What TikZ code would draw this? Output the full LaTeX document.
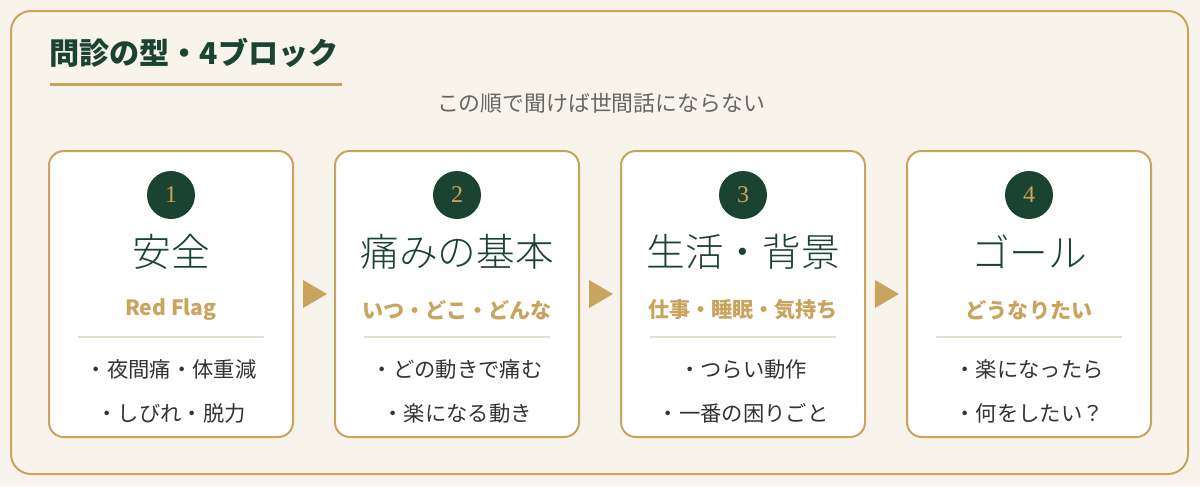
\documentclass[tikz,border=0pt]{standalone}
\usepackage{fontspec}
\usetikzlibrary{calc,positioning}
\setmainfont{Noto Sans CJK JP}
\newfontfamily\jplight{Noto Sans CJK JP Light}
\newfontfamily\numfont{Liberation Serif}
\definecolor{cream}{HTML}{F8F3EB}
\definecolor{gold}{HTML}{C8A45E}
\definecolor{pine}{HTML}{1B4332}
\definecolor{lightsep}{HTML}{E6DED0}
\definecolor{inkgray}{HTML}{333333}
\definecolor{subgray}{HTML}{666666}

\begin{document}
\begin{tikzpicture}[x=0.75pt,y=-0.75pt,
  card/.style={draw=gold,line width=1.5pt,fill=white,rounded corners=11pt,
    minimum width=183pt,minimum height=214.5pt,inner sep=0pt},
  badge/.style={circle,fill=pine,minimum size=36pt,inner sep=0pt,
    text=gold,font=\numfont\fontsize{18}{18}\selectfont},
  headline/.style={text=pine,font=\jplight\fontsize{29}{32}\selectfont,inner sep=0pt},
  tagline/.style={text=gold,font=\bfseries\fontsize{15.8}{18}\selectfont,inner sep=0pt},
  item/.style={text=inkgray,font=\fontsize{16}{18}\selectfont,inner sep=0pt},
  sepline/.style={draw=lightsep,line width=1.1pt},
  playtri/.style={fill=gold}]
 \useasboundingbox[fill=cream] (0,0) rectangle (1200,486);
 \draw[gold,line width=1.5pt,rounded corners=15pt] (11,11) rectangle (1188,474);
 %
 \node[anchor=base west,inner sep=0pt,text=pine,font=\bfseries\fontsize{22.6}{26}\selectfont]
   (title) at (49,64) {問診の型・4ブロック};
 \coordinate (ul1) at (50,84);
 \coordinate (ul2) at (342,84);
 \draw[gold,line width=2.25pt] (ul1) -- (ul2);
 \node[text=subgray,inner sep=0pt,font=\fontsize{16.4}{18}\selectfont]
   (motto) at (601,103) {この順で聞けば世間話にならない};
 %
 \node[card] (card1) at (171,294) {};
 \node[card] (card2) at (457,294) {};
 \node[card] (card3) at (743,294) {};
 \node[card] (card4) at (1029,294) {};
 %
 \node[badge] (num1) at ($(card1.north)+(0,45)$) {1};
 \node[headline] (head1) at ($(card1.north)+(0,102)$) {安全};
 \node[tagline] (tag1) at ($(card1.north)+(0,160)$) {Red Flag};
 \draw[sepline] ($(card1.north)+(-93,187)$) -- ($(card1.north)+(93,187)$);
 \node[item] (itemA1) at ($(card1.north)+(0,219)$) {・夜間痛・体重減};
 \node[item] (itemB1) at ($(card1.north)+(0,263)$) {・しびれ・脱力};
 %
 \node[badge] (num2) at ($(card2.north)+(0,45)$) {2};
 \node[headline] (head2) at ($(card2.north)+(0,102)$) {痛みの基本};
 \node[tagline] (tag2) at ($(card2.north)+(0,160)$) {いつ・どこ・どんな};
 \draw[sepline] ($(card2.north)+(-93,187)$) -- ($(card2.north)+(93,187)$);
 \node[item] (itemA2) at ($(card2.north)+(0,219)$) {・どの動きで痛む};
 \node[item] (itemB2) at ($(card2.north)+(0,263)$) {・楽になる動き};
 %
 \node[badge] (num3) at ($(card3.north)+(0,45)$) {3};
 \node[headline] (head3) at ($(card3.north)+(0,102)$) {生活・背景};
 \node[tagline] (tag3) at ($(card3.north)+(0,160)$) {仕事・睡眠・気持ち};
 \draw[sepline] ($(card3.north)+(-93,187)$) -- ($(card3.north)+(93,187)$);
 \node[item] (itemA3) at ($(card3.north)+(0,219)$) {・つらい動作};
 \node[item] (itemB3) at ($(card3.north)+(0,263)$) {・一番の困りごと};
 %
 \node[badge] (num4) at ($(card4.north)+(0,45)$) {4};
 \node[headline] (head4) at ($(card4.north)+(0,102)$) {ゴール};
 \node[tagline] (tag4) at ($(card4.north)+(0,160)$) {どうなりたい};
 \draw[sepline] ($(card4.north)+(-93,187)$) -- ($(card4.north)+(93,187)$);
 \node[item] (itemA4) at ($(card4.north)+(0,219)$) {・楽になったら};
 \node[item] (itemB4) at ($(card4.north)+(0,263)$) {・何をしたい？};
 %
 \coordinate (ar1) at ($(card1.east)!0.5!(card2.west)$);
 \coordinate (ar2) at ($(card2.east)!0.5!(card3.west)$);
 \coordinate (ar3) at ($(card3.east)!0.5!(card4.west)$);
 \fill[playtri] (ar1) ++(-11,-14) -- ++(24,14) -- ++(-24,14) -- cycle;
 \fill[playtri] (ar2) ++(-11,-14) -- ++(24,14) -- ++(-24,14) -- cycle;
 \fill[playtri] (ar3) ++(-11,-14) -- ++(24,14) -- ++(-24,14) -- cycle;
\end{tikzpicture}
\end{document}
